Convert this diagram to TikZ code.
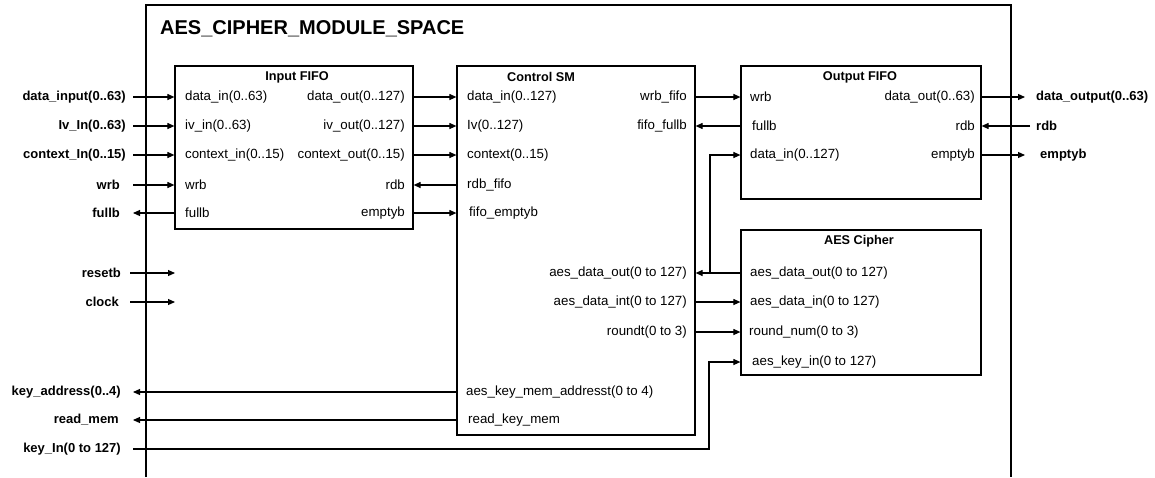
\documentclass[tikz,border=0pt]{standalone}
\usepackage{fontspec}
\setmainfont{Liberation Sans}
\usetikzlibrary{arrows.meta, positioning}

\tikzset{
  blk/.style={draw, line width=1.2pt, inner sep=0pt},
  port/.style={inner sep=0pt, font=\fontsize{13.3}{15}\selectfont},
  pin/.style={inner sep=0pt, font=\fontsize{13}{15}\selectfont\bfseries},
  ttl/.style={inner sep=0pt, font=\fontsize{12.7}{14}\selectfont\bfseries},
  sig/.style={line width=1.1pt, -{Triangle[length=7pt,width=6pt]}},
  wire/.style={line width=1.2pt},
}

\begin{document}
\begin{tikzpicture}[x=1pt, y=-1pt]
    \useasboundingbox (0,0) rectangle (1155,477);

    % module space (open at the bottom)
    \draw[wire] (146,477) |- (1011,5) -- (1011,477);
    \node[ttl, anchor=west, font=\fontsize{20}{22}\selectfont\bfseries] (space) at (160,29) {AES\_CIPHER\_MODULE\_SPACE};

    % Input FIFO
    \node[blk, minimum width=238pt, minimum height=163pt] (ififo) at (294,147.5) {};
    \node[ttl] (ififo-t) at (297,77) {Input FIFO};
    \node[port, anchor=west] (if-din) at (185,97) {data\_in(0..63)};
    \node[port, anchor=west] (if-ivin) at (185,126) {iv\_in(0..63)};
    \node[port, anchor=west] (if-ctxin) at (185,155) {context\_in(0..15)};
    \node[port, anchor=west] (if-wrb) at (185,185) {wrb};
    \node[port, anchor=west] (if-full) at (185,213) {fullb};
    \node[port, anchor=east] (if-dout) at (405,97) {data\_out(0..127)};
    \node[port, anchor=east] (if-ivout) at (405,126) {iv\_out(0..127)};
    \node[port, anchor=east] (if-ctxout) at (405,155) {context\_out(0..15)};
    \node[port, anchor=east] (if-rdb) at (405,185) {rdb};
    \node[port, anchor=east] (if-empty) at (405,213) {emptyb};

    % Control SM
    \node[blk, minimum width=238pt, minimum height=369pt] (csm) at (576,250.5) {};
    \node[ttl] (csm-t) at (541,77) {Control SM};
    \node[port, anchor=west] (cs-din) at (467,97) {data\_in(0..127)};
    \node[port, anchor=west] (cs-iv) at (467,126) {Iv(0..127)};
    \node[port, anchor=west] (cs-ctx) at (467,155) {context(0..15)};
    \node[port, anchor=west] (cs-rdb) at (467,185) {rdb\_fifo};
    \node[port, anchor=west] (cs-empty) at (469,213) {fifo\_emptyb};
    \node[port, anchor=west] (cs-kaddr) at (466,392) {aes\_key\_mem\_addresst(0 to 4)};
    \node[port, anchor=west] (cs-rkm) at (468,420) {read\_key\_mem};
    \node[port, anchor=east] (cs-wrb) at (687,97) {wrb\_fifo};
    \node[port, anchor=east] (cs-full) at (687,126) {fifo\_fullb};
    \node[port, anchor=east] (cs-ado) at (687,273) {aes\_data\_out(0 to 127)};
    \node[port, anchor=east] (cs-adi) at (687,302) {aes\_data\_int(0 to 127)};
    \node[port, anchor=east] (cs-rnd) at (687,332) {roundt(0 to 3)};

    % Output FIFO
    \node[blk, minimum width=240pt, minimum height=133pt] (ofifo) at (861,132.5) {};
    \node[ttl] (ofifo-t) at (860,77) {Output FIFO};
    \node[port, anchor=west] (of-wrb) at (750,97) {wrb};
    \node[port, anchor=west] (of-full) at (752,126) {fullb};
    \node[port, anchor=west] (of-din) at (750,155) {data\_in(0..127)};
    \node[port, anchor=east] (of-dout) at (975,97) {data\_out(0..63)};
    \node[port, anchor=east] (of-rdb) at (975,126) {rdb};
    \node[port, anchor=east] (of-empty) at (975,155) {emptyb};

    % AES Cipher
    \node[blk, minimum width=240pt, minimum height=145pt] (aes) at (861,302.5) {};
    \node[ttl] (aes-t) at (859,241) {AES Cipher};
    \node[port, anchor=west] (ac-dout) at (750,273) {aes\_data\_out(0 to 127)};
    \node[port, anchor=west] (ac-din) at (750,302) {aes\_data\_in(0 to 127)};
    \node[port, anchor=west] (ac-rnd) at (749,332) {round\_num(0 to 3)};
    \node[port, anchor=west] (ac-key) at (752,362) {aes\_key\_in(0 to 127)};

    % outside pins, left
    \node[pin, anchor=east] (e-din) at (126,97) {data\_input(0..63)};
    \node[pin, anchor=east] (e-iv) at (126,126) {Iv\_In(0..63)};
    \node[pin, anchor=east] (e-ctx) at (126,155) {context\_In(0..15)};
    \node[pin, anchor=east] (e-wrb) at (120,185) {wrb};
    \node[pin, anchor=east] (e-full) at (120,213) {fullb};
    \node[pin, anchor=east] (e-rst) at (121,273) {resetb};
    \node[pin, anchor=east] (e-clk) at (119,302) {clock};
    \node[pin, anchor=east] (e-kaddr) at (121,392) {key\_address(0..4)};
    \node[pin, anchor=east] (e-rmem) at (119,420) {read\_mem};
    \node[pin, anchor=east] (e-key) at (121,449) {key\_In(0 to 127)};

    % outside pins, right
    \node[pin, anchor=west] (e-dout) at (1036,97) {data\_output(0..63)};
    \node[pin, anchor=west] (e-rdb) at (1036,126) {rdb};
    \node[pin, anchor=west] (e-empty) at (1040,155) {emptyb};

    % free arrow ends
    \coordinate (rst-tip) at (175,273);
    \coordinate (clk-tip) at (175,302);
    \coordinate (jn) at (710,273);
    \coordinate (kbend) at (709,449);

    % into Input FIFO
    \draw[sig] ([xshift=7pt]e-din.east) -- (ififo.west |- if-din);
    \draw[sig] ([xshift=7pt]e-iv.east) -- (ififo.west |- if-ivin);
    \draw[sig] ([xshift=7pt]e-ctx.east) -- (ififo.west |- if-ctxin);
    \draw[sig] ([xshift=13pt]e-wrb.east) -- (ififo.west |- if-wrb);
    \draw[sig] (ififo.west |- if-full) -- ([xshift=13pt]e-full.east);
    \draw[sig] ([xshift=9pt]e-rst.east) -- (rst-tip);
    \draw[sig] ([xshift=11pt]e-clk.east) -- (clk-tip);

    % Input FIFO <-> Control SM
    \draw[sig] (ififo.east |- if-dout) -- (csm.west |- cs-din);
    \draw[sig] (ififo.east |- if-ivout) -- (csm.west |- cs-iv);
    \draw[sig] (ififo.east |- if-ctxout) -- (csm.west |- cs-ctx);
    \draw[sig] (csm.west |- cs-rdb) -- (ififo.east |- if-rdb);
    \draw[sig] (ififo.east |- if-empty) -- (csm.west |- cs-empty);

    % Control SM <-> Output FIFO and AES Cipher
    \draw[sig] (csm.east |- cs-wrb) -- (ofifo.west |- of-wrb);
    \draw[sig] (ofifo.west |- of-full) -- (csm.east |- cs-full);
    \draw[sig] (aes.west |- ac-dout) -- (csm.east |- cs-ado);
    \draw[sig] (jn) |- (ofifo.west |- of-din);
    \draw[sig] (csm.east |- cs-adi) -- (aes.west |- ac-din);
    \draw[sig] (csm.east |- cs-rnd) -- (aes.west |- ac-rnd);

    % key memory
    \draw[sig] (csm.west |- cs-kaddr) -- ([xshift=12pt]e-kaddr.east);
    \draw[sig] (csm.west |- cs-rkm) -- ([xshift=14pt]e-rmem.east);
    \draw[sig] ([xshift=12pt]e-key.east) -- (kbend) |- (aes.west |- ac-key);

    % outputs
    \draw[sig] (ofifo.east |- of-dout) -- ([xshift=-11pt]e-dout.west);
    \draw[sig] ([xshift=-6pt]e-rdb.west) -- (ofifo.east |- of-rdb);
    \draw[sig] (ofifo.east |- of-empty) -- ([xshift=-15pt]e-empty.west);
\end{tikzpicture}
\end{document}
